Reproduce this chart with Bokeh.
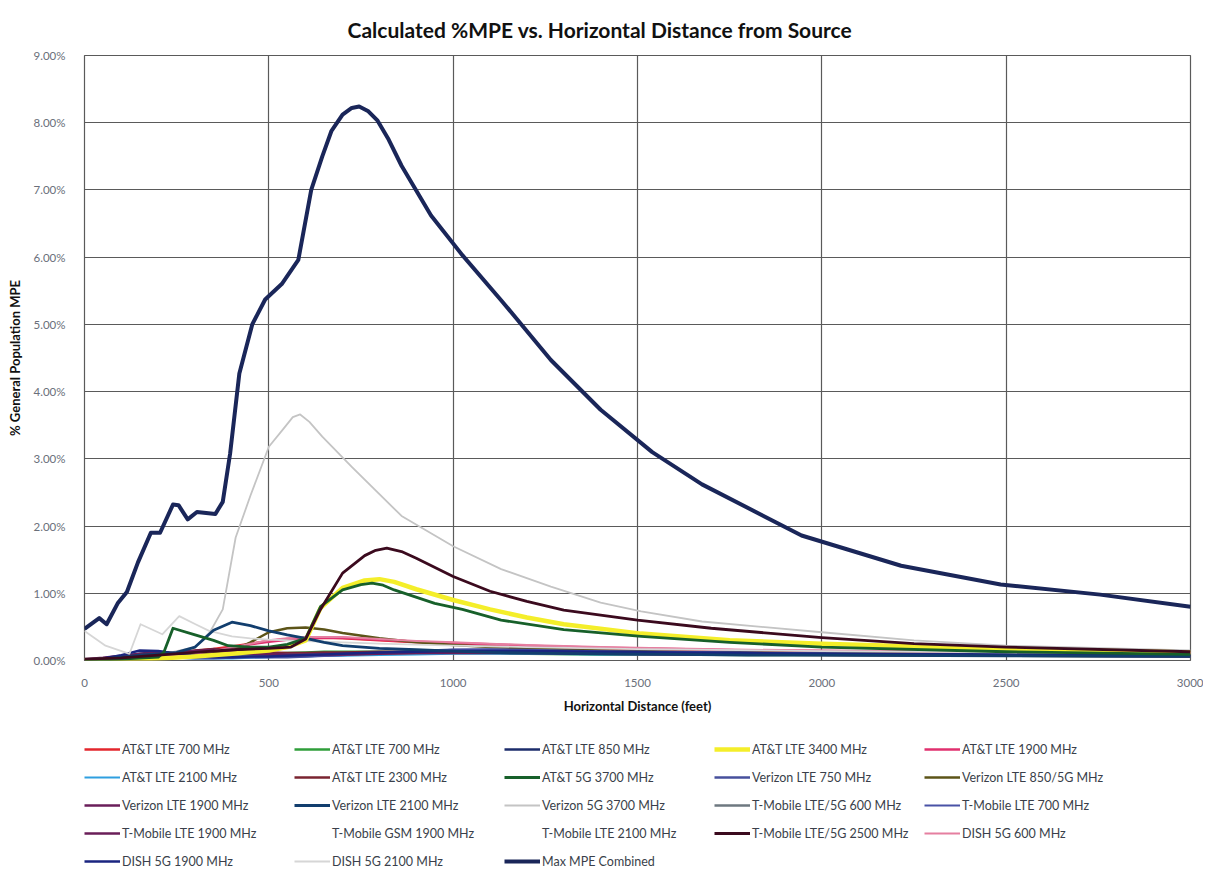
from bokeh.plotting import figure
from bokeh.layouts import column
from bokeh.models import (Legend, LegendItem, FixedTicker, PrintfTickFormatter, Range1d, Title)
from bokeh.embed import file_html
from bokeh.resources import INLINE

# ---------------- data (percent of General Population MPE) ----------------
D = [0, 50, 100, 150, 200, 250, 300, 350, 400, 450, 500, 550, 600, 650, 700,
     800, 900, 1000, 1100, 1200, 1400, 1600, 1800, 2000, 2500, 3000]

att700_red = [0.00, 0.03, 0.06, 0.08, 0.10, 0.12, 0.14, 0.17, 0.21, 0.25, 0.29, 0.32, 0.33, 0.34, 0.33,
              0.30, 0.27, 0.25, 0.23, 0.21, 0.18, 0.16, 0.14, 0.13, 0.11, 0.10]
att700_green = [0.00, 0.01, 0.02, 0.03, 0.04, 0.05, 0.06, 0.07, 0.08, 0.09, 0.10, 0.11, 0.12, 0.13, 0.13,
                0.13, 0.12, 0.11, 0.11, 0.10, 0.09, 0.09, 0.08, 0.08, 0.07, 0.06]
att850 = [0.00, 0.02, 0.05, 0.10, 0.13, 0.11, 0.09, 0.08, 0.07, 0.07, 0.07, 0.07, 0.08, 0.09, 0.10,
          0.11, 0.13, 0.14, 0.15, 0.14, 0.13, 0.12, 0.11, 0.10, 0.08, 0.07]
att1900 = [0.00, 0.02, 0.05, 0.08, 0.10, 0.10, 0.12, 0.15, 0.19, 0.24, 0.28, 0.31, 0.33, 0.34, 0.34,
           0.31, 0.28, 0.26, 0.24, 0.22, 0.19, 0.17, 0.15, 0.14, 0.12, 0.11]
att2100 = [0.00, 0.02, 0.04, 0.06, 0.05, 0.04, 0.03, 0.03, 0.03, 0.04, 0.05, 0.06, 0.06, 0.07, 0.07,
           0.08, 0.09, 0.10, 0.10, 0.10, 0.09, 0.09, 0.08, 0.08, 0.07, 0.06]
att2300 = [0.00, 0.02, 0.05, 0.08, 0.10, 0.12, 0.15, 0.17, 0.15, 0.13, 0.12, 0.11, 0.11, 0.12, 0.12,
           0.13, 0.13, 0.13, 0.13, 0.12, 0.11, 0.10, 0.10, 0.09, 0.08, 0.07]
vz750 = [0.00, 0.01, 0.02, 0.03, 0.04, 0.05, 0.05, 0.05, 0.05, 0.05, 0.05, 0.05, 0.06, 0.07, 0.08,
         0.11, 0.14, 0.16, 0.16, 0.15, 0.14, 0.12, 0.11, 0.10, 0.08, 0.07]
vz850 = [0.00, 0.01, 0.02, 0.04, 0.06, 0.08, 0.10, 0.12, 0.14, 0.27, 0.42, 0.48, 0.49, 0.46, 0.41,
         0.33, 0.27, 0.23, 0.20, 0.18, 0.15, 0.13, 0.12, 0.11, 0.09, 0.08]
vz1900 = [0.02, 0.04, 0.07, 0.10, 0.11, 0.12, 0.14, 0.16, 0.13, 0.11, 0.10, 0.09, 0.09, 0.10, 0.10,
          0.11, 0.12, 0.12, 0.12, 0.12, 0.11, 0.10, 0.09, 0.09, 0.08, 0.07]
vz2100 = [0.00, 0.02, 0.05, 0.08, 0.10, 0.12, 0.20, 0.45, 0.57, 0.52, 0.44, 0.38, 0.33, 0.27, 0.22,
          0.18, 0.16, 0.14, 0.12, 0.11, 0.10, 0.09, 0.08, 0.08, 0.07, 0.06]
tm600 = [0.00, 0.01, 0.03, 0.05, 0.06, 0.06, 0.05, 0.05, 0.06, 0.07, 0.07, 0.08, 0.08, 0.09, 0.09,
         0.10, 0.11, 0.12, 0.12, 0.12, 0.11, 0.10, 0.10, 0.09, 0.08, 0.07]
tm700 = [0.00, 0.01, 0.02, 0.04, 0.05, 0.04, 0.03, 0.03, 0.04, 0.05, 0.05, 0.06, 0.06, 0.07, 0.08,
         0.11, 0.14, 0.16, 0.17, 0.16, 0.14, 0.13, 0.12, 0.11, 0.09, 0.08]
tm1900 = [0.01, 0.03, 0.06, 0.09, 0.10, 0.11, 0.13, 0.15, 0.12, 0.10, 0.09, 0.08, 0.08, 0.09, 0.09,
          0.10, 0.11, 0.11, 0.11, 0.11, 0.10, 0.09, 0.09, 0.08, 0.07, 0.06]
tmgsm1900 = [0.00, 0.01, 0.03, 0.05, 0.06, 0.06, 0.07, 0.08, 0.08, 0.08, 0.08, 0.08, 0.08, 0.08, 0.08,
             0.08, 0.08, 0.08, 0.08, 0.08, 0.07, 0.07, 0.06, 0.06, 0.05, 0.05]
tm2100 = [0.00, 0.01, 0.02, 0.04, 0.05, 0.05, 0.06, 0.06, 0.07, 0.07, 0.07, 0.07, 0.07, 0.07, 0.07,
          0.07, 0.07, 0.07, 0.07, 0.07, 0.06, 0.06, 0.06, 0.05, 0.05, 0.04]
dish600 = [0.00, 0.02, 0.04, 0.06, 0.07, 0.08, 0.10, 0.14, 0.19, 0.25, 0.30, 0.33, 0.35, 0.35, 0.35,
           0.32, 0.29, 0.27, 0.25, 0.23, 0.20, 0.18, 0.16, 0.15, 0.13, 0.12]
dish1900 = [0.00, 0.03, 0.08, 0.15, 0.14, 0.10, 0.07, 0.05, 0.05, 0.06, 0.06, 0.07, 0.08, 0.09, 0.10,
            0.12, 0.13, 0.14, 0.14, 0.14, 0.13, 0.12, 0.11, 0.10, 0.09, 0.08]

dish2100_x = [0, 57, 122, 152, 211, 257, 301, 338, 400, 450, 500, 600, 700, 800, 1000, 1200, 1500, 2000, 2500, 3000]
dish2100 = [0.44, 0.22, 0.10, 0.54, 0.39, 0.66, 0.54, 0.44, 0.36, 0.33, 0.31, 0.29, 0.27, 0.25, 0.22,
            0.20, 0.17, 0.14, 0.12, 0.11]

vz5g_x = [0, 100, 200, 300, 340, 375, 410, 450, 500, 540, 565, 585, 610, 645, 725, 860, 1000, 1130,
          1265, 1400, 1510, 1675, 2000, 2250, 2500, 3000]
vz5g = [0.02, 0.04, 0.08, 0.20, 0.42, 0.76, 1.83, 2.45, 3.18, 3.45, 3.62, 3.66, 3.55, 3.33, 2.88, 2.15,
        1.70, 1.36, 1.10, 0.86, 0.73, 0.58, 0.42, 0.30, 0.22, 0.15]

att3400_x = [0, 100, 200, 300, 400, 500, 550, 600, 640, 700, 760, 800, 840, 900, 1000, 1100, 1200,
             1300, 1510, 1750, 2000, 2500, 3000]
att3400 = [0.00, 0.01, 0.03, 0.06, 0.10, 0.15, 0.20, 0.30, 0.78, 1.08, 1.19, 1.21, 1.17, 1.06, 0.90,
           0.76, 0.64, 0.54, 0.40, 0.30, 0.25, 0.17, 0.12]

att5g_x = [0, 100, 200, 215, 240, 300, 350, 390, 450, 500, 550, 600, 640, 700, 750, 780, 810, 840,
           950, 1025, 1130, 1300, 1510, 1750, 2000, 2500, 3000]
att5g = [0.00, 0.02, 0.05, 0.12, 0.48, 0.38, 0.30, 0.22, 0.20, 0.20, 0.24, 0.33, 0.80, 1.05, 1.13,
         1.15, 1.12, 1.05, 0.85, 0.76, 0.60, 0.46, 0.36, 0.27, 0.20, 0.13, 0.09]

tm2500_x = [0, 100, 200, 300, 400, 450, 500, 560, 600, 640, 700, 760, 790, 820, 860, 900, 1000,
            1100, 1200, 1300, 1500, 1700, 2000, 2250, 2500, 3000]
tm2500 = [0.02, 0.04, 0.08, 0.12, 0.16, 0.17, 0.18, 0.20, 0.32, 0.76, 1.30, 1.56, 1.64, 1.67, 1.62,
          1.52, 1.25, 1.03, 0.88, 0.75, 0.60, 0.48, 0.34, 0.25, 0.20, 0.13]

max_x = [0, 40, 60, 90, 115, 145, 180, 205, 240, 255, 280, 305, 355, 375, 395, 420, 455, 490, 535,
         580, 615, 645, 670, 700, 725, 745, 770, 795, 825, 860, 940, 1025, 1130, 1265, 1400, 1540,
         1675, 1945, 2215, 2485, 2755, 3000]
max_mpe = [0.47, 0.63, 0.54, 0.85, 1.02, 1.46, 1.90, 1.90, 2.32, 2.31, 2.10, 2.21, 2.18, 2.36, 3.08,
           4.27, 5.00, 5.37, 5.60, 5.96, 7.00, 7.50, 7.88, 8.12, 8.22, 8.24, 8.17, 8.03, 7.75, 7.36,
           6.62, 6.03, 5.36, 4.47, 3.73, 3.10, 2.62, 1.86, 1.41, 1.13, 0.98, 0.80]

x_ticks = [0, 500, 1000, 1500, 2000, 2500, 3000]
y_ticks = [0, 1, 2, 3, 4, 5, 6, 7, 8, 9]

# (label, x, y, color, width, alpha) in legend order
series = [
    ("AT&T LTE 700 MHz", D, att700_red, "#E3262D", 2.5, 1),
    ("AT&T LTE 700 MHz", D, att700_green, "#2F9E3A", 2.5, 1),
    ("AT&T LTE 850 MHz", D, att850, "#1C2C6B", 2.5, 1),
    ("AT&T LTE 3400 MHz", att3400_x, att3400, "#F4EE2A", 4.5, 1),
    ("AT&T LTE 1900 MHz", D, att1900, "#E0306E", 2.5, 1),
    ("AT&T LTE 2100 MHz", D, att2100, "#2F9FE0", 2, 1),
    ("AT&T LTE 2300 MHz", D, att2300, "#7A2430", 2.5, 1),
    ("AT&T 5G 3700 MHz", att5g_x, att5g, "#17602A", 2.8, 1),
    ("Verizon LTE 750 MHz", D, vz750, "#47509C", 2.5, 1),
    ("Verizon LTE 850/5G MHz", D, vz850, "#5C5418", 2.5, 1),
    ("Verizon LTE 1900 MHz", D, vz1900, "#6A1E5A", 2.5, 1),
    ("Verizon LTE 2100 MHz", D, vz2100, "#123E6E", 2.8, 1),
    ("Verizon 5G 3700 MHz", vz5g_x, vz5g, "#C4C4C4", 1.8, 1),
    ("T-Mobile LTE/5G 600 MHz", D, tm600, "#6E7880", 2.5, 1),
    ("T-Mobile LTE 700 MHz", D, tm700, "#4952A6", 1.8, 1),
    ("T-Mobile LTE 1900 MHz", D, tm1900, "#6A1E58", 2.5, 1),
    ("T-Mobile GSM 1900 MHz", D, tmgsm1900, "#FFFFFF", 2, 0),
    ("T-Mobile LTE 2100 MHz", D, tm2100, "#FFFFFF", 2, 0),
    ("T-Mobile LTE/5G 2500 MHz", tm2500_x, tm2500, "#3B0A1E", 2.8, 1),
    ("DISH 5G 600 MHz", D, dish600, "#E57FA0", 2, 1),
    ("DISH 5G 1900 MHz", D, dish1900, "#1A2580", 2.5, 1),
    ("DISH 5G 2100 MHz", dish2100_x, dish2100, "#D6D6D6", 1.8, 1),
    ("Max MPE Combined", max_x, max_mpe, "#1A2659", 4, 1),
]

# drawing order (low ones first, prominent curves on top)
draw_order = [0, 1, 2, 4, 5, 6, 8, 9, 10, 13, 14, 15, 16, 17, 19, 20, 21, 12, 11, 3, 7, 18, 22]

# ---------------- main chart ----------------
p = figure(width=1203, height=716, output_backend="svg", toolbar_location=None,
           x_range=Range1d(0, 3000), y_range=Range1d(0, 9),
           min_border_left=82, min_border_right=13, min_border_top=52, min_border_bottom=52)

p.title = Title(text="Calculated %MPE vs. Horizontal Distance from Source", align="left",
                text_font="Lato", text_font_size="21px", text_font_style="bold",
                text_color="#111111", offset=263, standoff=28, text_line_height=1.0)

for i in draw_order:
    name, xs, ys, col, w, a = series[i]
    p.line(xs, ys, line_color=col, line_width=w, line_alpha=a, line_join="round")

p.xaxis.ticker = FixedTicker(ticks=x_ticks)
p.yaxis.ticker = FixedTicker(ticks=y_ticks)
p.yaxis.formatter = PrintfTickFormatter(format="%.2f%%")
for ax in (p.xaxis[0], p.yaxis[0]):
    ax.axis_line_color = None
    ax.major_tick_line_color = None
    ax.minor_tick_line_color = None
    ax.major_label_text_font = "Lato"
    ax.major_label_text_font_size = "11.5px"
    ax.major_label_text_color = "#6A6F7A"
    ax.axis_label_text_font = "Lato"
    ax.axis_label_text_font_size = "13px"
    ax.axis_label_text_font_style = "bold"
    ax.axis_label_text_color = "#111111"
p.xaxis.axis_label = "Horizontal Distance (feet)"
p.yaxis.axis_label = "% General Population MPE"
p.xaxis.major_label_standoff = 12
p.xaxis.axis_label_standoff = 8
p.yaxis.major_label_standoff = 13
p.yaxis.axis_label_standoff = 8

p.xgrid.grid_line_color = "#5A5A5A"
p.ygrid.grid_line_color = "#5A5A5A"
p.xgrid.grid_line_width = 1.2
p.ygrid.grid_line_width = 1.2
p.outline_line_color = "#5A5A5A"
p.outline_line_width = 1.2
p.background_fill_color = "white"
p.border_fill_color = "white"

# ---------------- legend strip ----------------
# same series and styles, drawn on a range where nothing is in view: only the legend shows
leg_fig = figure(width=1203, height=163, output_backend="svg", toolbar_location=None,
                 x_range=Range1d(-2, -1), y_range=Range1d(-2, -1),
                 x_axis_location=None, y_axis_location=None,
                 min_border_left=84, min_border_right=0, min_border_top=23, min_border_bottom=0)
leg_fig.grid.visible = False
leg_fig.outline_line_color = None
leg_fig.border_fill_color = "white"
leg_fig.background_fill_color = "white"

items = []
for name, xs, ys, col, w, a in series:
    r = leg_fig.line(xs, ys, line_color=col, line_width=w, line_alpha=a)
    items.append(LegendItem(label=name, renderers=[r]))

legend = Legend(items=items, ncols=5, orientation="horizontal", location="top_left",
                label_text_font="Lato", label_text_font_size="12.5px", label_text_color="#3A3F4A",
                glyph_width=36, glyph_height=20, label_standoff=2, label_width=164,
                spacing=8, padding=4, margin=0, border_line_color=None,
                background_fill_alpha=0)
leg_fig.add_layout(legend, "center")

layout = column(p, leg_fig, spacing=0)
open("out.html", "w").write(file_html(layout, INLINE))
